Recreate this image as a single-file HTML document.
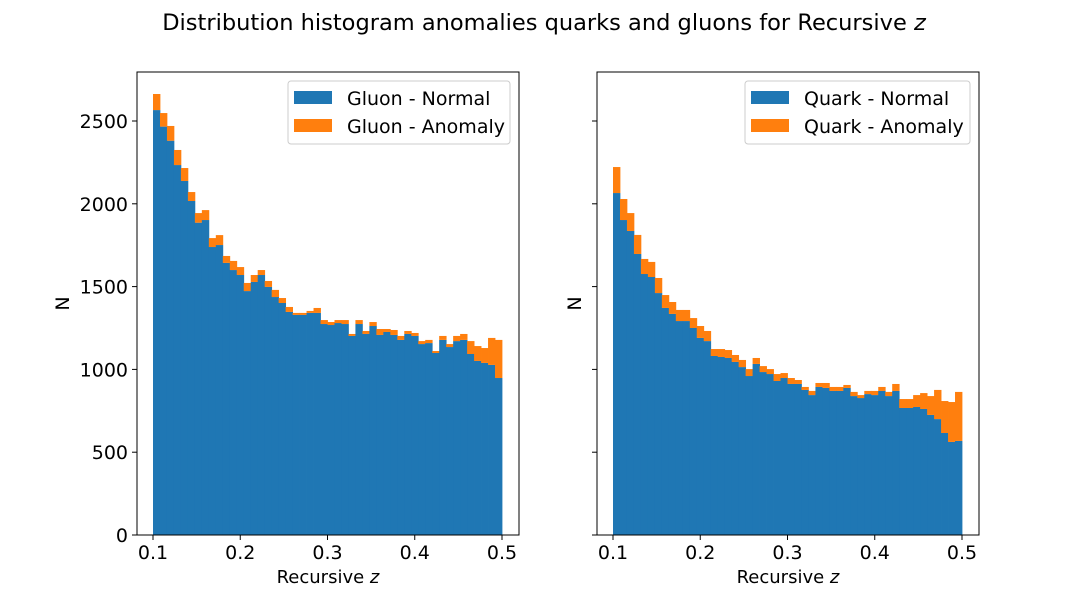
<!DOCTYPE html>
<html><head><meta charset="utf-8"><style>
body{margin:0;background:#fff}
svg{display:block;font-family:"DejaVu Sans","Liberation Sans",sans-serif}
</style></head><body>
<svg id="chart" width="1088" height="600" viewBox="0 0 1088 600">
<rect width="1088" height="600" fill="#fff"/>
<text x="544" y="30" text-anchor="middle" font-size="22.5">Distribution histogram anomalies quarks and gluons for Recursive <tspan font-style="italic">z</tspan></text>
<g id="left"></g>
<g id="right"></g>
</svg>
<script>
const binStart = 0.1;
const binEnd = 0.5;
const xTicks = [0.1, 0.2, 0.3, 0.4, 0.5];
const xTickLabels = ["0.1", "0.2", "0.3", "0.4", "0.5"];
const yTicks = [0, 500, 1000, 1500, 2000, 2500];
const yTickLabels = ["0", "500", "1000", "1500", "2000", "2500"];
const gluonNormal = [2566,2466,2381,2234,2138,2017,1886,1902,1739,1751,1643,1600,1570,1473,1528,1570,1498,1437,1401,1347,1329,1329,1341,1341,1274,1268,1280,1274,1202,1274,1214,1262,1208,1226,1208,1178,1214,1202,1153,1159,1099,1178,1135,1171,1178,1093,1051,1039,1027,948];
const gluonAnomaly = [97,82,89,91,78,54,58,60,54,60,42,55,48,49,42,30,36,43,30,30,12,12,12,30,24,18,18,24,12,24,18,24,36,18,30,24,18,18,18,19,12,24,18,31,36,78,90,90,163,230];
const quarkNormal = [2065,1902,1836,1697,1576,1558,1461,1371,1335,1292,1292,1250,1190,1171,1081,1075,1069,1045,1014,960,1033,984,972,930,948,912,912,876,845,894,888,870,870,888,839,827,851,845,870,839,870,767,767,773,761,725,700,616,562,568];
const quarkAnomaly = [157,127,108,115,91,91,91,78,72,67,67,60,72,61,42,48,48,42,43,42,36,36,30,42,30,36,24,18,25,24,30,24,24,18,25,18,19,25,24,25,42,54,54,72,96,114,176,193,241,296];

const NS = "http://www.w3.org/2000/svg";
function mk(tag, attrs, parent) {
  const e = document.createElementNS(NS, tag);
  for (const k in attrs) e.setAttribute(k, attrs[k]);
  parent.appendChild(e);
  return e;
}
const Y0 = 535, YTOP = 72;
function yScale(v) { return Y0 - v * (414 / 2500); }

function panel(g, x0, x1, xA, normal, anomaly, showY, ylabOff, leg) {
  const xScale = v => xA + (v - 0.1) * (349 / 0.4);
  const n = normal.length;
  const w = (binEnd - binStart) / n;
  for (let i = 0; i < n; i++) {
    const a = xScale(binStart + i * w), b = xScale(binStart + (i + 1) * w);
    const yn = yScale(normal[i]);
    const r1 = mk("rect", {x: a, y: yn, width: b - a + 0.4, height: Y0 - yn, fill: "#1f77b4"}, g);
    
    
    const yt = yScale(normal[i] + anomaly[i]);
    const r2 = mk("rect", {x: a, y: yt, width: b - a + 0.4, height: yn - yt, fill: "#ff7f0e"}, g);
    
    
  }
  const fr = mk("rect", {x: x0, y: YTOP, width: x1 - x0, height: Y0 - YTOP, fill: "none", stroke: "#000", "stroke-width": 1}, g);
  
  
  xTicks.forEach((t, i) => {
    const x = xScale(t);
    mk("line", {x1: x, x2: x, y1: Y0, y2: Y0 + 5, stroke: "#000"}, g);
    const tl = mk("text", {x: x, y: Y0 + 24, "text-anchor": "middle", "font-size": 19}, g);
    tl.textContent = xTickLabels[i];
    
    
  });
  yTicks.forEach((t, i) => {
    const y = yScale(t);
    mk("line", {x1: x0 - 5, x2: x0, y1: y, y2: y, stroke: "#000"}, g);
    if (showY) {
      const tl = mk("text", {x: x0 - 9, y: y + 7, "text-anchor": "end", "font-size": 19}, g);
      tl.textContent = yTickLabels[i];
      
      
    }
  });
  const xl = mk("text", {x: (x0 + x1) / 2, y: 583, "text-anchor": "middle", "font-size": 18}, g);
  xl.innerHTML = 'Recursive <tspan font-style="italic">z</tspan>';
  
  
  const yl = mk("text", {x: 0, y: 0, "text-anchor": "middle", "font-size": 19, transform: `translate(${x0 - ylabOff},${(Y0 + YTOP) / 2}) rotate(-90)`}, g);
  yl.textContent = "N";
  
  
  const lg = mk("g", {}, g);
  
  
  mk("rect", {x: leg.x, y: 81, width: leg.w, height: 63, rx: 3, fill: "#fff", stroke: "#ccc", "stroke-width": 1}, lg);
  [["#1f77b4", leg.a, 91], ["#ff7f0e", leg.b, 119]].forEach(([c, txt, y]) => {
    const p = mk("rect", {x: leg.x + 6, y: y, width: 38, height: 13, fill: c}, lg);
    
    
    const t = mk("text", {x: leg.x + 59, y: y + 14, "font-size": 19}, lg);
    t.textContent = txt;
    
    
  });
}
panel(document.getElementById("left"), 137, 519, 153, gluonNormal, gluonAnomaly, true, 68, {x: 288, w: 222, a: "Gluon - Normal", b: "Gluon - Anomaly"});
panel(document.getElementById("right"), 597, 979, 613, quarkNormal, quarkAnomaly, false, 16, {x: 745, w: 225, a: "Quark - Normal", b: "Quark - Anomaly"});
</script>
</body></html>
